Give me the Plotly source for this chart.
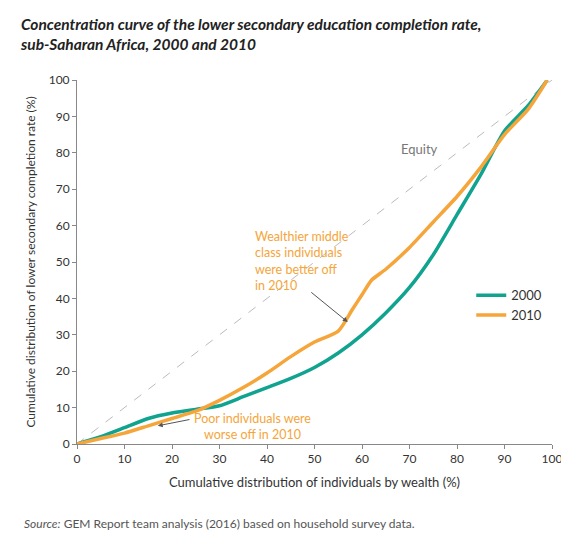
import plotly.graph_objects as go

x2000 = [0, 5, 10, 15, 20, 25, 30, 35, 40, 45, 50, 55, 60, 65, 70, 75, 80, 85, 90, 95, 99]
y2000 = [0, 2, 4.5, 7, 8.5, 9.5, 10.5, 13, 15.5, 18, 21, 25, 30, 36, 43, 52, 63, 74, 86, 93, 100]
x2010 = [0, 5, 10, 15, 20, 25, 30, 35, 40, 45, 50, 55, 58, 60, 62, 65, 70, 75, 80, 85, 90, 95, 99]
y2010 = [0, 1.5, 3, 5, 7, 9, 12, 15.5, 19.5, 24, 28, 31, 37, 41, 45, 48, 54, 61, 68, 76, 85, 92, 100]
ticks = [0, 10, 20, 30, 40, 50, 60, 70, 80, 90, 100]

teal = "#10a38f"
orange = "#f5a53a"
fnt = "Lato"

fig = go.Figure()
fig.add_trace(go.Scatter(x=[0, 100], y=[0, 100], mode="lines", showlegend=False,
                         line=dict(color="#bbbbbb", width=1, dash="dash"), hoverinfo="skip"))
fig.add_trace(go.Scatter(x=x2000, y=y2000, mode="lines", name="2000",
                         line=dict(color=teal, width=3.5, shape="spline", smoothing=0.6)))
fig.add_trace(go.Scatter(x=x2010, y=y2010, mode="lines", name="2010",
                         line=dict(color=orange, width=3.5, shape="spline", smoothing=0.6)))

ann = []
ann.append(dict(x=72, y=81, text="Equity", showarrow=False, font=dict(color="#777", size=13)))
ann.append(dict(x=37, y=59.5, xanchor="left", yanchor="top", align="left", showarrow=False,
                text="Wealthier middle<br>class individuals<br>were better off<br>in 2010",
                font=dict(color=orange, size=12.5)))
ann.append(dict(x=57, y=33.5, ax=49, ay=42, axref="x", ayref="y", showarrow=True,
                arrowhead=2, arrowsize=1, arrowwidth=1, arrowcolor="#555", text=""))
ann.append(dict(x=37, y=4.7, showarrow=False, align="center",
                text="Poor individuals were<br>worse off in 2010",
                font=dict(color=orange, size=12.5)))
ann.append(dict(x=17, y=5, ax=24, ay=6.8, axref="x", ayref="y", showarrow=True,
                arrowhead=2, arrowsize=1, arrowwidth=1, arrowcolor="#555", text=""))
ann.append(dict(x=-0.125, y=1.185, xref="paper", yref="paper", xanchor="left", yanchor="top",
                align="left", showarrow=False,
                text="<b><i>Concentration curve of the lower secondary education completion rate,<br>sub-Saharan Africa, 2000 and 2010</i></b>",
                font=dict(size=15.5, color="#222")))
ann.append(dict(x=-0.115, y=-0.245, xref="paper", yref="paper", xanchor="left", yanchor="bottom",
                showarrow=False, text="<i>Source:</i> GEM Report team analysis (2016) based on household survey data.",
                font=dict(size=12, color="#555")))

fig.update_layout(
    width=569, height=553, paper_bgcolor="white", plot_bgcolor="white",
    margin=dict(l=69, r=25, t=72, b=117),
    font=dict(family=fnt, color="#333"),
    annotations=ann,
    legend=dict(x=0.83, y=0.45, xanchor="left", yanchor="top", font=dict(size=13),
                bgcolor="rgba(0,0,0,0)", tracegroupgap=0),
    shapes=[dict(type="rect", xref="paper", yref="paper", x0=-0.2, x1=1.1, y0=-0.335, y1=-0.305,
                 fillcolor=teal, line=dict(width=0), layer="above")],
    xaxis=dict(range=[0, 100], tickvals=ticks, showgrid=False, zeroline=False,
               showline=True, linecolor="#888", ticks="outside", ticklen=4, tickcolor="#888",
               tickfont=dict(size=12, color="#333"),
               title=dict(text="Cumulative distribution of individuals by wealth (%)",
                          font=dict(size=13), standoff=12)),
    yaxis=dict(range=[0, 100], tickvals=ticks, showgrid=False, zeroline=False,
               showline=True, linecolor="#888", ticks="outside", ticklen=4, tickcolor="#888",
               tickfont=dict(size=12, color="#333"),
               title=dict(text="Cumulative distribution of lower secondary completion rate (%)",
                          font=dict(size=12), standoff=10)),
)
fig.write_html("out.html")
